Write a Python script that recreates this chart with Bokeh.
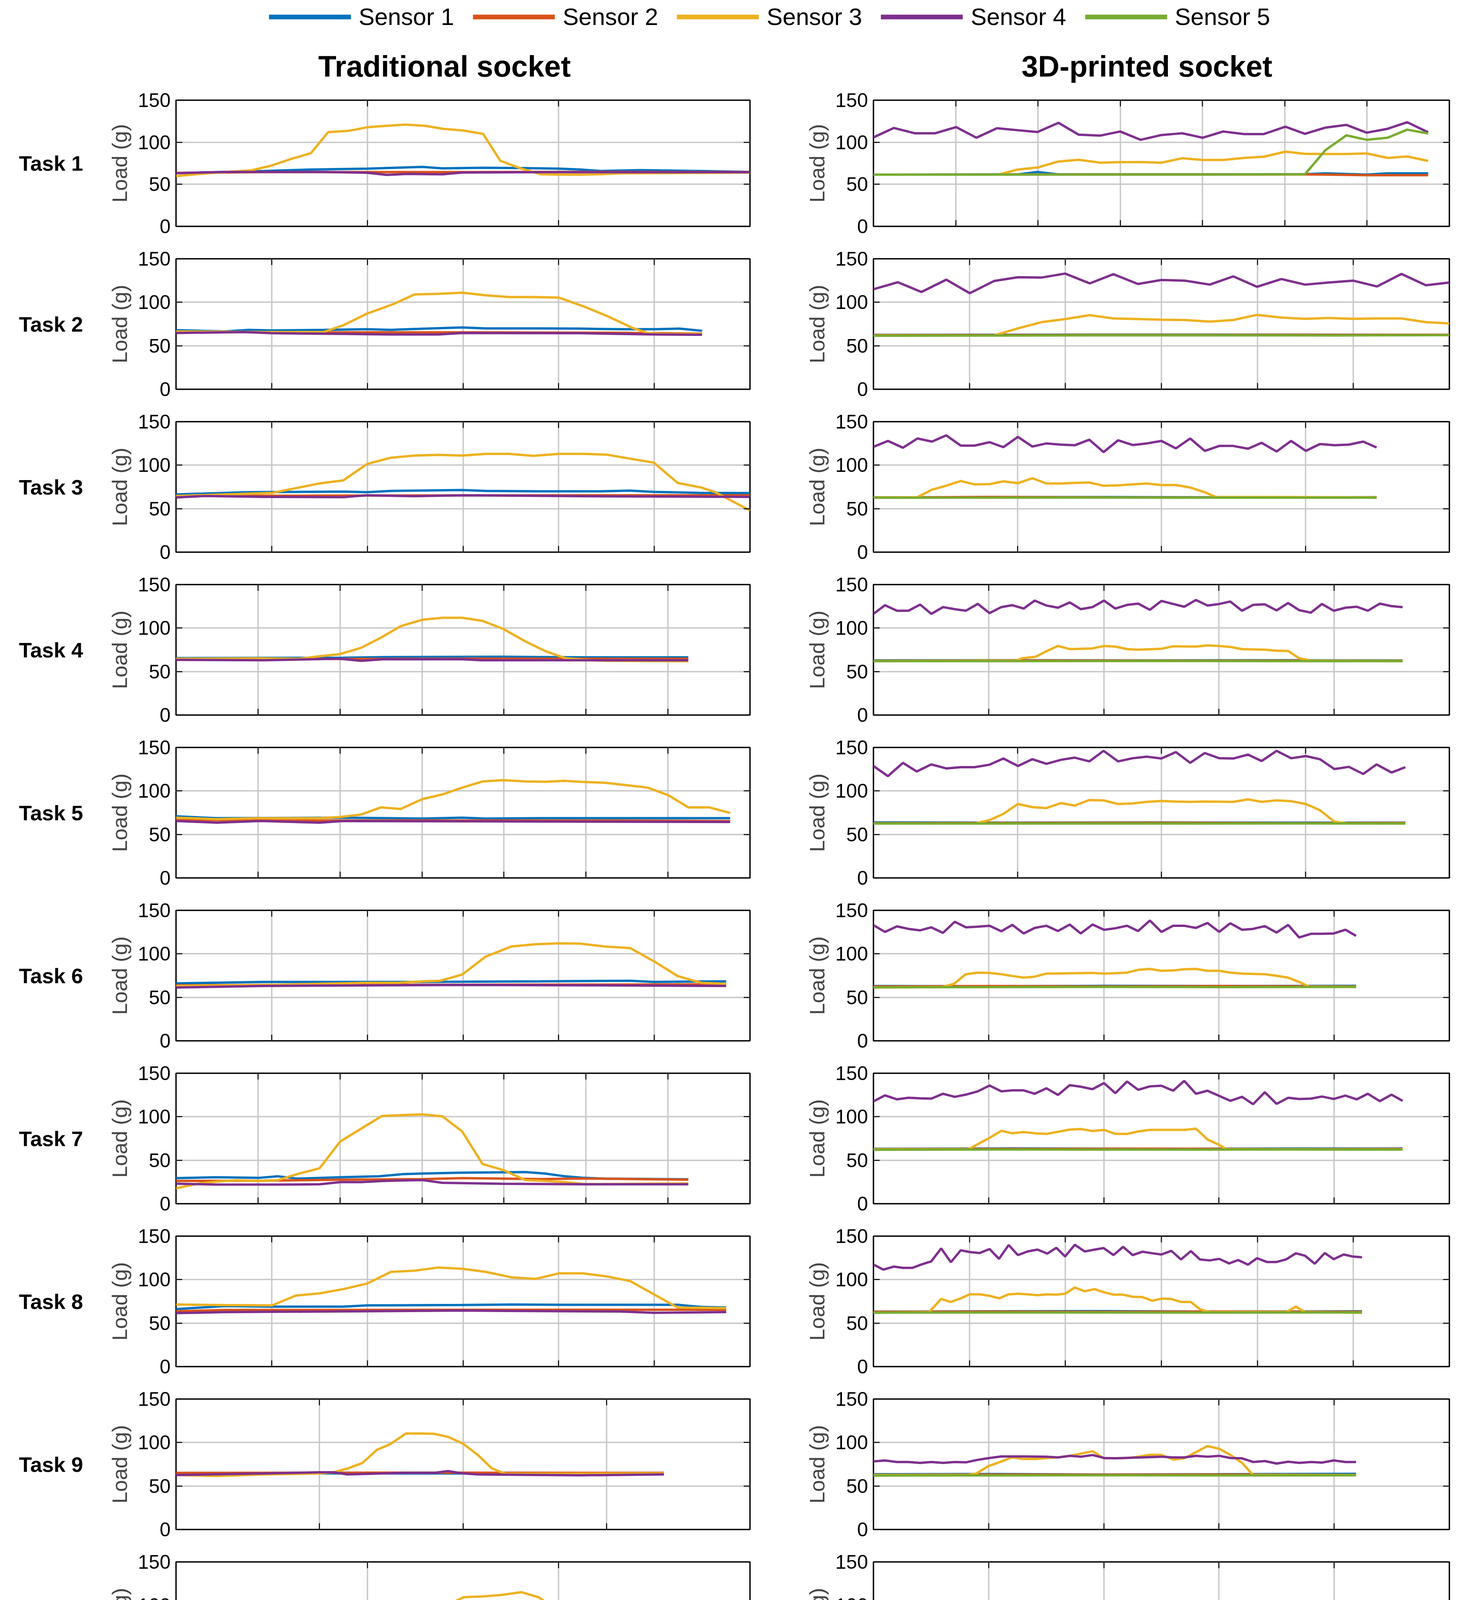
from bokeh.plotting import figure
from bokeh.models import (Range1d, FixedTicker, LinearAxis, Legend, LegendItem,
                          CustomLabelingPolicy)
from bokeh.layouts import column, row
from bokeh.embed import file_html
from bokeh.resources import INLINE
from bokeh.core.properties import value

SENSORS = ["Sensor 1", "Sensor 2", "Sensor 3", "Sensor 4", "Sensor 5"]
COLORS = ["#0072BD", "#D95319", "#EDB120", "#7E2F8E", "#77AC30"]
COL_TITLES = ["Traditional socket", "3D-printed socket"]
TASKS = ["Task 1", "Task 2", "Task 3", "Task 4", "Task 5", "Task 6",
         "Task 7", "Task 8", "Task 9", "Task 10", "Task 11", "Task 12"]
Y_TICKS = [0, 50, 100, 150]
X_MAX = {"L": 2.0, "R": 2.5}
GRID_DIV_L = [3, 6, 6, 7, 7, 6, 7, 6, 4, 3, 3, 4]
GRID_DIV_R = [7, 6, 4, 5, 4, 5, 5, 6, 5, 5, 4, 5]

# ---------------- Traditional socket (left column) ----------------
L1_S1_T = [0, 0.307, 0.473, 0.666, 0.859, 0.928, 1.065, 1.203, 1.334, 1.41, 1.479, 1.617, 1.686, 1.824, 2.0]
L1_S1_V = [63.3, 65.8, 67.6, 68.6, 70.7, 69, 69.7, 69.3, 68.6, 67.6, 65.8, 66.9, 66.5, 65.8, 64.7]
L1_S2_T = [0, 0.3, 0.73, 1.0, 1.5, 2.0]
L1_S2_V = [63.5, 64.5, 64.6, 64.6, 64.8, 64.6]
L1_S3_T = [0, 0.07, 0.17, 0.26, 0.33, 0.40, 0.47, 0.53, 0.60, 0.67, 0.73, 0.80, 0.87, 0.93, 1.00, 1.07, 1.13, 1.20, 1.27, 1.33, 1.41, 1.48, 1.55, 1.69, 1.82, 2.0]
L1_S3_V = [59.8, 62, 64.5, 66.5, 72, 80, 87, 112, 113.5, 118, 119.5, 121, 119.5, 116, 114, 110, 78, 69, 62, 61.5, 61.5, 62, 63, 63.3, 63.5, 64]
L1_S4_T = [0, 0.17, 0.514, 0.666, 0.735, 0.804, 0.928, 0.997, 1.272, 2.0]
L1_S4_V = [63.3, 64.7, 64.7, 63.7, 61.2, 62.3, 61.9, 64, 64.4, 64.4]

L2_S1_T = [0, 0.17, 0.252, 0.335, 0.514, 0.666, 0.749, 0.831, 0.997, 1.079, 1.272, 1.41, 1.548, 1.672, 1.755, 1.833]
L2_S1_V = [67.9, 66.5, 68.3, 67.6, 68.3, 69, 68.3, 69.3, 71.1, 70, 70, 69.7, 69, 69, 69.7, 67.2]
L2_S2_T = [0, 0.5, 1.0, 1.5, 1.833]
L2_S2_V = [65.8, 65.5, 65.5, 65, 64]
L2_S3_T = [0, 0.307, 0.514, 0.583, 0.666, 0.755, 0.831, 0.914, 0.997, 1.079, 1.162, 1.245, 1.334, 1.424, 1.507, 1.589, 1.644, 1.686, 1.833]
L2_S3_V = [66.5, 65.8, 65.8, 73.6, 87, 97.6, 109, 109.7, 111, 108, 106, 106, 105.4, 94.8, 83.5, 70.7, 64.7, 63.7, 63.7]
L2_S4_T = [0, 0.238, 0.335, 0.583, 0.749, 0.914, 0.997, 1.41, 1.672, 1.833]
L2_S4_V = [64.7, 65.8, 64.4, 63.7, 63, 63, 64.7, 64.4, 63, 62.6]

L3_S1_T = [0, 0.252, 0.583, 0.666, 0.749, 0.997, 1.079, 1.272, 1.479, 1.582, 1.665, 1.824, 2.0]
L3_S1_V = [66.4, 68.9, 69.6, 68.9, 70.4, 71.4, 70.4, 70, 70, 70.7, 69.3, 68.2, 67.9]
L3_S2_T = [0, 0.5, 1.0, 1.5, 2.0]
L3_S2_V = [64.6, 65, 65.2, 65.4, 65.4]
L3_S3_T = [0, 0.17, 0.335, 0.418, 0.5, 0.583, 0.666, 0.749, 0.831, 0.914, 0.997, 1.079, 1.162, 1.245, 1.334, 1.424, 1.5, 1.582, 1.665, 1.748, 1.83, 1.879, 2.0]
L3_S3_V = [64.6, 66.4, 68.2, 73.6, 79, 82.5, 101.4, 108.6, 111, 111.8, 111, 112.9, 112.9, 110.7, 112.9, 112.9, 112.1, 107.5, 102.9, 79.6, 74.3, 69, 47.9]
L3_S4_T = [0, 0.1, 0.307, 0.583, 0.666, 0.831, 0.997, 1.41, 2.0]
L3_S4_V = [62.9, 64.6, 63.6, 63.2, 65.4, 64.3, 65.4, 64.3, 63.6]

L4_S1_T = [0, 0.583, 0.721, 1.134, 1.41, 1.785]
L4_S1_V = [65.5, 65.9, 66.6, 67, 66.3, 66.3]
L4_S2_T = [0, 0.5, 1.0, 1.5, 1.785]
L4_S2_V = [64.1, 64.5, 64.8, 64.8, 64.8]
L4_S3_T = [0, 0.287, 0.431, 0.5, 0.572, 0.645, 0.714, 0.783, 0.859, 0.928, 0.997, 1.068, 1.141, 1.217, 1.286, 1.355, 1.424, 1.493, 1.785]
L4_S3_V = [64.8, 65.2, 64.8, 67.6, 70.1, 77.3, 89, 102.2, 109.6, 111.8, 111.8, 108.2, 98.9, 84.7, 73.6, 65.5, 63.4, 62.3, 61.9]
L4_S4_T = [0, 0.307, 0.569, 0.645, 0.721, 0.997, 1.065, 1.785]
L4_S4_V = [63.4, 63, 64.8, 62.3, 64.1, 64.1, 63, 63]

L5_S1_T = [0, 0.142, 0.583, 0.859, 0.997, 1.079, 1.272, 1.931]
L5_S1_V = [70.8, 68.7, 69.3, 68.3, 69.3, 68.3, 68.7, 68.7]
L5_S2_T = [0, 0.5, 1.0, 1.5, 1.931]
L5_S2_V = [66.5, 66, 66, 66, 65.4]
L5_S3_T = [0, 0.142, 0.287, 0.5, 0.572, 0.645, 0.714, 0.783, 0.859, 0.928, 0.997, 1.068, 1.141, 1.217, 1.286, 1.355, 1.424, 1.493, 1.569, 1.644, 1.716, 1.785, 1.858, 1.931]
L5_S3_V = [69.3, 67.6, 68.7, 68.7, 70.1, 72.9, 81.1, 79.3, 90.7, 96, 103.8, 110.9, 112.4, 110.9, 110.6, 111.6, 110.2, 109.5, 106.7, 103.8, 95, 81.1, 81.1, 74.7]
L5_S4_T = [0, 0.142, 0.294, 0.5, 0.583, 1.931]
L5_S4_V = [65.4, 63.6, 65.4, 63.6, 65.4, 64.3]

L6_S1_T = [0, 0.307, 0.859, 1.272, 1.582, 1.665, 1.917]
L6_S1_V = [66, 67.7, 67.7, 68.4, 69.1, 67.7, 68.4]
L6_S2_T = [0, 0.5, 1.0, 1.5, 1.917]
L6_S2_V = [63.8, 64.5, 64.5, 64.7, 64.9]
L6_S3_T = [0, 0.307, 0.666, 0.776, 0.859, 0.921, 0.997, 1.079, 1.169, 1.252, 1.334, 1.41, 1.493, 1.582, 1.665, 1.748, 1.83, 1.917]
L6_S3_V = [63.1, 64.2, 66.7, 66.7, 68.4, 69.1, 76.2, 96.8, 108.5, 111, 112.1, 111.7, 108.5, 106.7, 91.5, 74.5, 66.7, 65.6]
L6_S4_T = [0, 0.307, 0.997, 1.41, 1.917]
L6_S4_V = [61.3, 63.1, 64.2, 63.8, 63.1]

L7_S1_T = [0, 0.142, 0.287, 0.356, 0.425, 0.572, 0.707, 0.79, 0.859, 0.997, 1.217, 1.286, 1.355, 1.424, 1.493, 1.785]
L7_S1_V = [29.4, 30.4, 29.7, 31.5, 28.8, 30.4, 31.5, 34, 34.7, 35.7, 36.4, 34.7, 31.5, 29.7, 28.8, 28.1]
L7_S2_T = [0, 0.307, 0.583, 0.859, 0.997, 1.272, 1.41, 1.785]
L7_S2_V = [26.2, 26.5, 27.6, 28.3, 29.4, 28.3, 29, 27.6]
L7_S3_T = [0, 0.073, 0.142, 0.211, 0.287, 0.356, 0.425, 0.5, 0.572, 0.645, 0.717, 0.79, 0.859, 0.928, 0.997, 1.068, 1.141, 1.217, 1.286, 1.355, 1.424, 1.493, 1.785]
L7_S3_V = [17.7, 22.9, 25.5, 26.9, 26.2, 27.2, 34.3, 40.7, 71.5, 86.3, 100.8, 101.9, 102.6, 100.5, 83.1, 45.6, 38.6, 27.2, 26.2, 24.8, 22.6, 22.6, 23.3]
L7_S4_T = [0, 0.142, 0.356, 0.5, 0.572, 0.645, 0.721, 0.859, 0.928, 1.134, 1.424, 1.785]
L7_S4_V = [23, 22, 22, 22.3, 24.8, 24.8, 26.2, 27.2, 24, 22.9, 22.3, 22.3]

L8_S1_T = [0, 0.17, 0.335, 0.583, 0.666, 0.997, 1.169, 1.334, 1.748, 1.83, 1.917]
L8_S1_V = [66.1, 69.6, 68.9, 68.9, 70.4, 70.8, 71.4, 71.1, 71.1, 68.6, 67.9]
L8_S2_T = [0, 0.17, 1.0, 1.917]
L8_S2_V = [63.7, 65.1, 65.3, 65.4]
L8_S3_T = [0, 0.17, 0.335, 0.418, 0.5, 0.583, 0.666, 0.749, 0.831, 0.914, 0.997, 1.079, 1.169, 1.252, 1.334, 1.417, 1.5, 1.582, 1.665, 1.748, 1.917]
L8_S3_V = [71.4, 70.7, 70.4, 81.7, 84.2, 89.1, 95.5, 108.9, 110.3, 113.9, 112.5, 108.9, 102.6, 100.8, 107.2, 107.2, 103.7, 98.4, 83.1, 67.9, 67.2]
L8_S4_T = [0, 0.17, 0.997, 1.548, 1.665, 1.917]
L8_S4_V = [61.5, 62.6, 64.4, 63.3, 61.9, 62.6]

L9_S1_T = [0, 0.5, 1.0, 1.7]
L9_S1_V = [63.5, 64.5, 64.5, 64]
L9_S2_T = [0, 0.5, 1.0, 1.7]
L9_S2_V = [65.1, 65.3, 65.3, 65.1]
L9_S3_T = [0, 0.142, 0.307, 0.5, 0.549, 0.597, 0.649, 0.7, 0.748, 0.801, 0.852, 0.9, 0.948, 1.0, 1.052, 1.1, 1.148, 1.7]
L9_S3_V = [62.6, 61.5, 63.3, 64.4, 65.8, 70, 76.4, 91.6, 98.4, 110.4, 110.4, 110, 106.5, 98.7, 85.6, 70.4, 64, 64.4]
L9_S4_T = [0, 0.307, 0.5, 0.549, 0.597, 0.79, 0.9, 0.948, 1.0, 1.052, 1.41, 1.7]
L9_S4_V = [62.6, 64.4, 65.8, 65.8, 63.3, 65.1, 65.1, 67.2, 64.4, 63.3, 62.3, 63.3]

L10_S1_T = [0, 0.307, 0.666, 0.928, 1.003, 1.41, 1.604, 2.0]
L10_S1_V = [63.5, 64.8, 67.4, 68.1, 66.7, 67.4, 66.7, 65.6]
L10_S2_T = [0, 0.128, 0.307, 2.0]
L10_S2_V = [63.5, 66, 66, 66]
L10_S3_T = [0, 0.307, 0.666, 0.735, 0.804, 0.87, 0.935, 1.003, 1.065, 1.134, 1.203, 1.265, 1.334, 1.403, 1.465, 1.535, 1.604, 1.686, 1.824, 2.0]
L10_S3_V = [63.5, 64.5, 65, 72.4, 89, 103.9, 98.9, 109.5, 110.2, 112, 115.2, 109.2, 92.6, 74.1, 65.3, 61.4, 62.1, 62.5, 62.5, 61.8]
L10_S4_T = [0, 0.17, 0.39, 0.459, 0.528, 0.597, 0.859, 0.928, 1.003, 1.334, 1.465, 1.548, 1.686, 2.0]
L10_S4_V = [64.2, 64.2, 63.5, 65.2, 63.2, 64.5, 64.5, 63.5, 66.7, 66.4, 64.5, 65.9, 64.8, 64.5]

L11_S1_T = [0, 0.583, 0.804, 0.859, 0.941, 1.003, 1.272, 1.534, 1.617, 2.0]
L11_S1_V = [63.6, 65.3, 66, 67.1, 67.1, 66, 67.1, 67.1, 66, 66]
L11_S2_T = [0, 1.0, 2.0]
L11_S2_V = [65.3, 65.3, 65.3]
L11_S3_T = [0, 0.404, 0.473, 0.535, 0.6, 0.666, 0.735, 0.804, 0.87, 0.941, 1.003, 1.068, 1.107, 1.203, 1.334, 1.548, 1.686, 1.824, 2.0]
L11_S3_V = [64.3, 65.3, 78.7, 93.4, 113.1, 112.1, 110.3, 108.2, 106.5, 102.6, 96.3, 70.6, 65.3, 63.6, 62.9, 61.8, 61.8, 63.6, 63.6]
L11_S4_T = [0, 0.17, 0.252, 0.404, 0.6, 0.666, 0.735, 1.134, 1.465, 1.686, 2.0]
L11_S4_V = [62.9, 62.9, 61.8, 62.9, 62.9, 65.3, 63.6, 63.6, 62.5, 63.2, 62.5]

L12_S1_T = [0, 0.555, 0.649, 0.7, 0.797, 0.852, 0.951, 1.052, 1.41, 1.603, 1.799]
L12_S1_V = [63, 64.1, 67.6, 69.4, 70.1, 67.6, 66.5, 65.1, 65.8, 64.1, 63]
L12_S2_T = [0, 0.252, 0.859, 1.272, 1.799]
L12_S2_V = [64.1, 65.1, 65.1, 65.1, 63]
L12_S3_T = [0, 0.555, 0.6, 0.649, 0.7, 0.748, 0.797, 0.852, 0.9, 0.951, 1.001, 1.052, 1.1, 1.272, 1.799]
L12_S3_V = [64.1, 64.1, 73.6, 75.4, 94, 112.7, 112.3, 108.8, 106.3, 102.8, 79.9, 65.8, 61.3, 61.3, 62.3]
L12_S4_T = [0, 0.197, 0.252, 0.445, 0.797, 0.951, 1.052, 1.41, 1.799]
L12_S4_V = [61.6, 61.3, 63, 63, 61.6, 63.4, 62.3, 61.6, 61.6]

# ---------------- 3D-printed socket (right column) ----------------
R1_S1_T = [0, 0.627, 0.712, 0.803, 1.5, 1.873, 1.962, 2.141, 2.232, 2.408]
R1_S1_V = [61.5, 61.8, 64.7, 61.8, 61.8, 62, 63, 61.5, 63, 63]
R1_S2_T = [0, 1.0, 1.873, 1.962, 2.141, 2.408]
R1_S2_V = [61.5, 61.8, 61.8, 61.5, 60.8, 60.8]
R1_S3_T = [0, 0.541, 0.627, 0.712, 0.803, 0.891, 0.985, 1.071, 1.16, 1.25, 1.34, 1.429, 1.518, 1.609, 1.694, 1.788, 1.873, 1.962, 2.053, 2.141, 2.232, 2.317, 2.408]
R1_S3_V = [61.5, 61.5, 67.6, 70, 77.1, 79.2, 75.7, 76.4, 76.4, 75.7, 81, 78.9, 78.9, 81.4, 82.8, 88.8, 86.3, 86, 86, 86.7, 81.4, 83.1, 77.8]
R1_S4_T = [0, 0.089, 0.179, 0.268, 0.359, 0.447, 0.536, 0.627, 0.712, 0.803, 0.891, 0.985, 1.071, 1.16, 1.25, 1.34, 1.429, 1.518, 1.609, 1.694, 1.788, 1.873, 1.962, 2.053, 2.141, 2.232, 2.317, 2.408]
R1_S4_V = [105.8, 117, 110.7, 110.7, 118, 105.4, 116.7, 114.3, 112.1, 123.1, 109, 107.9, 112.8, 102.9, 108.6, 110.7, 105.4, 112.8, 109.7, 109.7, 118.5, 110, 117.4, 120.6, 111.4, 116, 123.8, 111.8]
R1_S5_T = [0, 0.5, 1.0, 1.5, 1.873, 1.962, 2.053, 2.141, 2.232, 2.317, 2.408]
R1_S5_V = [61.5, 61.5, 61.8, 61.8, 61.9, 90.6, 108.2, 102.9, 105.4, 115, 110.4]

R2_S1_T = [0, 1.25, 2.5]
R2_S1_V = [62.5, 62.8, 62.6]
R2_S2_T = [0, 1.25, 2.5]
R2_S2_V = [62.3, 62.4, 62.6]
R2_S3_T = [0, 0.524, 0.627, 0.729, 0.832, 0.939, 1.042, 1.148, 1.25, 1.352, 1.46, 1.562, 1.665, 1.771, 1.873, 1.976, 2.082, 2.186, 2.292, 2.398, 2.5]
R2_S3_V = [61.9, 61.9, 70, 77.1, 80.7, 85.2, 81.4, 80.7, 79.9, 79.6, 77.8, 79.6, 85.6, 82.4, 81, 82, 81, 81.4, 81.4, 77.1, 75.7]
R2_S4_T = [0, 0.106, 0.208, 0.316, 0.418, 0.524, 0.627, 0.729, 0.832, 0.939, 1.042, 1.148, 1.25, 1.352, 1.46, 1.562, 1.665, 1.771, 1.873, 1.976, 2.082, 2.186, 2.292, 2.398, 2.5]
R2_S4_V = [115, 123.1, 111.8, 126, 110.4, 124.5, 128.8, 128.4, 133, 121.7, 132.3, 121, 125.6, 124.9, 120.3, 129.8, 117.8, 126.7, 120.3, 122.7, 124.9, 118.2, 132.6, 119.6, 122.7]
R2_S5_T = [0, 0.5, 1.0, 1.5, 2.0, 2.5]
R2_S5_V = [61.5, 61.8, 62, 62, 61.9, 62.2]

R3_S1_T = [0, 0.5, 1.0, 1.5, 2.184]
R3_S1_V = [63, 63.2, 63.3, 63, 63.2]
R3_S2_T = [0, 0.5, 1.0, 1.5, 2.184]
R3_S2_V = [62.8, 63.4, 63, 62.8, 63]
R3_S3_T = [0, 0.191, 0.254, 0.316, 0.379, 0.439, 0.504, 0.564, 0.627, 0.69, 0.751, 0.814, 0.874, 0.937, 0.999, 1.062, 1.125, 1.187, 1.25, 1.313, 1.375, 1.438, 1.484, 2.184]
R3_S3_V = [62.9, 63.2, 71.8, 76.4, 81.8, 77.9, 78.2, 81.4, 79.3, 85, 78.9, 78.9, 79.6, 80, 76.4, 76.8, 77.9, 78.9, 77.1, 77.1, 74.3, 68.9, 63.6, 63]
R3_S4_T = [0, 0.063, 0.128, 0.191, 0.254, 0.316, 0.379, 0.439, 0.504, 0.564, 0.627, 0.69, 0.751, 0.814, 0.874, 0.937, 0.999, 1.062, 1.125, 1.187, 1.25, 1.313, 1.375, 1.438, 1.501, 1.562, 1.626, 1.685, 1.75, 1.813, 1.877, 1.938, 2.001, 2.064, 2.126, 2.184]
R3_S4_V = [121.1, 127.9, 120, 130.7, 127.1, 134.3, 122.5, 122.5, 126.4, 120.7, 132.5, 121.4, 125, 123.6, 122.9, 129.3, 115, 128.6, 123.2, 125, 127.9, 119.3, 130.7, 116.4, 122.1, 122.1, 118.9, 125.7, 115.7, 127.9, 116.4, 124.3, 122.9, 123.6, 127.1, 120.4]
R3_S5_T = [0, 0.5, 1.0, 1.5, 2.184]
R3_S5_V = [62.5, 62.6, 62.8, 62.6, 62.7]

R4_S1_T = [0, 0.6, 1.2, 1.8, 2.297]
R4_S1_V = [62.8, 63, 62.8, 63, 62.7]
R4_S2_T = [0, 0.6, 1.2, 1.8, 2.297]
R4_S2_V = [62.3, 62.8, 62.5, 62.5, 62.4]
R4_S3_T = [0, 0.618, 0.644, 0.704, 0.751, 0.801, 0.852, 0.951, 1.001, 1.05, 1.101, 1.149, 1.25, 1.301, 1.4, 1.45, 1.501, 1.549, 1.6, 1.699, 1.75, 1.8, 1.848, 1.899, 2.297]
R4_S3_V = [62, 62.7, 65.2, 67, 73.4, 79.4, 75.8, 76.6, 79.4, 78.7, 75.8, 75.1, 76.2, 79, 78.7, 80.1, 79.4, 78.3, 75.8, 75.1, 74, 73.7, 65.2, 62.7, 62]
R4_S4_T = [0, 0.05, 0.102, 0.152, 0.203, 0.251, 0.302, 0.353, 0.401, 0.453, 0.504, 0.555, 0.603, 0.652, 0.7, 0.751, 0.801, 0.852, 0.9, 0.951, 1.001, 1.05, 1.101, 1.149, 1.2, 1.25, 1.301, 1.349, 1.4, 1.45, 1.501, 1.549, 1.6, 1.648, 1.699, 1.75, 1.8, 1.848, 1.899, 1.947, 1.998, 2.049, 2.098, 2.146, 2.198, 2.249, 2.297]
R4_S4_V = [116.3, 126.3, 119.9, 119.9, 127, 116.3, 124.1, 121.7, 119.9, 127.8, 117.2, 124.1, 126.3, 122.4, 131.6, 125.9, 123.4, 129.5, 121.7, 124.1, 131.6, 122.4, 126.6, 128.1, 121, 131.2, 127.7, 124.5, 132.3, 125.9, 127.7, 130.5, 119.9, 126.6, 127.3, 120.3, 128.8, 120.6, 117.7, 127.7, 119.9, 123.4, 124.5, 119.9, 128.1, 125.2, 124.1]
R4_S5_T = [0, 0.6, 1.2, 1.8, 2.297]
R4_S5_V = [62, 62, 62.2, 62, 62]

R5_S1_T = [0, 0.6, 1.2, 1.8, 2.309]
R5_S1_V = [63.8, 63.5, 63.8, 63.5, 63.6]
R5_S2_T = [0, 0.6, 1.2, 1.8, 2.309]
R5_S2_V = [63, 63.2, 63.4, 63, 63.2]
R5_S3_T = [0, 0.439, 0.504, 0.564, 0.627, 0.69, 0.751, 0.814, 0.874, 0.937, 0.999, 1.062, 1.125, 1.187, 1.25, 1.313, 1.375, 1.438, 1.562, 1.626, 1.685, 1.75, 1.813, 1.877, 1.938, 2.001, 2.064, 2.309]
R5_S3_V = [62.6, 62.6, 66.5, 73.6, 85, 81.4, 80.3, 86, 83.2, 89.6, 89.2, 85, 85.7, 87.5, 88.5, 87.8, 87.5, 87.8, 87.5, 90.3, 87.5, 89.2, 88.2, 85, 77.9, 64.7, 62.6, 62.6]
R5_S4_T = [0, 0.063, 0.128, 0.188, 0.251, 0.316, 0.379, 0.439, 0.504, 0.564, 0.627, 0.69, 0.751, 0.814, 0.874, 0.937, 0.999, 1.062, 1.125, 1.187, 1.25, 1.313, 1.375, 1.438, 1.501, 1.562, 1.626, 1.685, 1.75, 1.813, 1.877, 1.938, 2.001, 2.064, 2.126, 2.184, 2.249, 2.309]
R5_S4_V = [128.7, 117, 132.3, 122.4, 130.5, 125.9, 127.3, 127.3, 130.2, 137.3, 128.7, 136.5, 131.2, 135.8, 138.3, 134, 146.1, 134, 137.6, 139.4, 137.3, 144.7, 132.3, 143.6, 137.6, 137.3, 141.8, 134.4, 146.1, 137.6, 140.1, 136.5, 125.2, 127.7, 119.5, 130.5, 121.2, 127.3]
R5_S5_T = [0, 0.6, 1.2, 1.8, 2.309]
R5_S5_V = [62.5, 62.6, 62.5, 62.7, 62.5]

R6_S1_T = [0, 0.5, 1.0, 1.5, 2.095]
R6_S1_V = [63, 62.7, 63.2, 63, 63.2]
R6_S2_T = [0, 0.5, 1.0, 1.5, 2.095]
R6_S2_V = [62.5, 63, 62.6, 63, 62.5]
R6_S3_T = [0, 0.302, 0.35, 0.401, 0.453, 0.504, 0.555, 0.603, 0.652, 0.7, 0.751, 0.951, 1.001, 1.101, 1.149, 1.2, 1.25, 1.301, 1.349, 1.4, 1.45, 1.501, 1.549, 1.6, 1.699, 1.75, 1.8, 1.848, 1.89, 2.095]
R6_S3_V = [61.3, 62, 65.6, 76.6, 78.4, 78, 76.6, 74.5, 72.7, 73.8, 77.3, 78, 77.3, 78.4, 81.6, 82.6, 80.5, 80.9, 82.3, 82.6, 80.5, 80.5, 78.4, 77.3, 76.6, 74.8, 72.7, 67.7, 62.4, 62]
R6_S4_T = [0, 0.05, 0.102, 0.152, 0.203, 0.251, 0.302, 0.353, 0.401, 0.453, 0.504, 0.555, 0.603, 0.652, 0.7, 0.751, 0.801, 0.852, 0.9, 0.951, 1.001, 1.05, 1.101, 1.149, 1.2, 1.25, 1.301, 1.349, 1.4, 1.45, 1.501, 1.549, 1.6, 1.648, 1.699, 1.75, 1.8, 1.848, 1.899, 1.947, 1.998, 2.049, 2.095]
R6_S4_V = [133, 125.2, 131.6, 128.7, 127, 130.5, 124.1, 136.9, 130.5, 131.2, 132.3, 125.9, 133.3, 123.4, 129.8, 132.3, 126.2, 133.7, 123.4, 133.7, 127.7, 129.4, 132.3, 126.2, 138.3, 125.2, 132.3, 132.3, 129.8, 135.5, 125.2, 135.1, 127.7, 128.7, 131.9, 124.5, 133.3, 118.8, 123, 123, 123.4, 127.7, 120.6]
R6_S5_T = [0, 0.5, 1.0, 1.5, 2.095]
R6_S5_V = [61.5, 61.8, 62, 61.8, 62]

R7_S1_T = [0, 0.6, 1.2, 1.8, 2.297]
R7_S1_V = [63.2, 63.5, 63.2, 63.4, 63.5]
R7_S2_T = [0, 0.6, 1.2, 1.8, 2.297]
R7_S2_V = [62.8, 63, 63.2, 62.8, 63]
R7_S3_T = [0, 0.413, 0.504, 0.555, 0.603, 0.652, 0.7, 0.751, 0.801, 0.852, 0.9, 0.951, 1.001, 1.05, 1.101, 1.149, 1.2, 1.25, 1.301, 1.349, 1.4, 1.45, 1.501, 1.532, 2.297]
R7_S3_V = [62.7, 62.7, 75.7, 83.8, 81, 82.4, 81, 80.3, 82.7, 85.2, 85.9, 83.5, 84.9, 80.3, 80.3, 83.1, 84.9, 84.9, 84.9, 84.9, 86.3, 73.9, 67.6, 62.7, 62.5]
R7_S4_T = [0, 0.05, 0.102, 0.152, 0.203, 0.251, 0.302, 0.353, 0.401, 0.453, 0.504, 0.555, 0.603, 0.652, 0.7, 0.751, 0.801, 0.852, 0.9, 0.951, 1.001, 1.05, 1.101, 1.149, 1.2, 1.25, 1.301, 1.349, 1.4, 1.45, 1.501, 1.549, 1.6, 1.648, 1.699, 1.75, 1.8, 1.848, 1.899, 1.947, 1.998, 2.049, 2.098, 2.146, 2.198, 2.249, 2.297]
R7_S4_V = [117.6, 124.6, 120, 121.8, 121.1, 120.8, 126.4, 122.9, 125.4, 129.2, 135.9, 129.2, 130.3, 130.3, 126.4, 132.7, 125, 136.3, 134.5, 131.7, 138.7, 127.1, 140.5, 131, 134.9, 135.6, 129.9, 141.2, 126.4, 129.9, 123.9, 118.3, 122.9, 114.4, 128.2, 114.8, 121.8, 120.4, 120.8, 123.2, 120.4, 124.3, 120, 126.4, 117.9, 125.4, 118.3]
R7_S5_T = [0, 0.6, 1.2, 1.8, 2.297]
R7_S5_V = [62, 62.3, 62.2, 62.3, 62.2]

R8_S1_T = [0, 0.5, 1.0, 1.5, 2.121]
R8_S1_V = [63.2, 63.5, 63.8, 63.2, 63.5]
R8_S2_T = [0, 0.5, 1.0, 1.5, 2.121]
R8_S2_V = [63, 63.2, 63, 63.3, 63]
R8_S3_T = [0, 0.242, 0.294, 0.336, 0.379, 0.418, 0.461, 0.504, 0.545, 0.587, 0.627, 0.669, 0.712, 0.755, 0.794, 0.832, 0.874, 0.917, 0.96, 0.999, 1.042, 1.084, 1.125, 1.168, 1.211, 1.25, 1.293, 1.335, 1.378, 1.417, 1.46, 1.791, 1.834, 1.873, 2.121]
R8_S3_V = [61.9, 62.6, 77.8, 74.3, 78.5, 83.1, 83.1, 81.4, 78.5, 83.1, 83.8, 83.1, 82.1, 83.1, 82.7, 83.8, 90.9, 86.6, 89.1, 85.6, 82.7, 82.7, 80.3, 79.9, 75.7, 78.1, 77.8, 74.3, 74.3, 66.1, 62.6, 62.6, 69, 62.6, 61.9]
R8_S4_T = [0, 0.043, 0.089, 0.128, 0.169, 0.208, 0.251, 0.294, 0.336, 0.379, 0.418, 0.461, 0.504, 0.545, 0.587, 0.627, 0.669, 0.712, 0.755, 0.794, 0.832, 0.874, 0.917, 0.96, 0.999, 1.042, 1.084, 1.125, 1.168, 1.211, 1.25, 1.293, 1.335, 1.378, 1.417, 1.46, 1.501, 1.544, 1.583, 1.626, 1.665, 1.708, 1.75, 1.791, 1.834, 1.873, 1.916, 1.959, 1.998, 2.041, 2.082, 2.121]
R8_S4_V = [117.4, 111.4, 115, 113.5, 113.5, 117.4, 121, 135.9, 120, 133.8, 131.7, 130.6, 135.2, 123.9, 139.8, 128.2, 132.4, 134.5, 129.9, 136.6, 126.6, 140.1, 132.4, 134.5, 136.3, 128.2, 137.7, 128.2, 132.1, 130.3, 128.9, 133.1, 123.2, 132.8, 123.2, 122.1, 123.9, 118.6, 122.5, 117.2, 124.6, 120.3, 120.3, 123.2, 130.3, 127.5, 118.3, 130.6, 123.5, 128.9, 126.5, 125.6]
R8_S5_T = [0, 0.5, 1.0, 1.5, 2.121]
R8_S5_V = [62, 62.2, 62.2, 62.1, 62.3]

R9_S1_T = [0, 0.5, 1.0, 1.5, 2.095]
R9_S1_V = [63.5, 63.8, 63.2, 63.5, 64]
R9_S2_T = [0, 0.5, 1.0, 1.5, 2.095]
R9_S2_V = [62.8, 63.2, 63, 63.2, 62.8]
R9_S3_T = [0, 0.405, 0.447, 0.499, 0.55, 0.601, 0.652, 0.704, 0.755, 0.801, 0.852, 0.9, 0.951, 1.001, 1.101, 1.149, 1.2, 1.25, 1.301, 1.349, 1.4, 1.45, 1.501, 1.549, 1.6, 1.648, 2.095]
R9_S3_V = [62.6, 62.6, 64.4, 72.9, 77.6, 82.9, 81.1, 81.1, 82.2, 82.9, 84.7, 87.2, 90, 81.8, 82.2, 83.7, 85.8, 85.8, 80.4, 81.8, 88.9, 95.9, 92.8, 85.8, 76.6, 62.6, 62.6]
R9_S4_T = [0, 0.05, 0.102, 0.152, 0.203, 0.251, 0.302, 0.353, 0.401, 0.453, 0.504, 0.555, 0.652, 0.751, 0.801, 0.852, 0.9, 0.951, 1.001, 1.05, 1.25, 1.301, 1.349, 1.4, 1.45, 1.501, 1.549, 1.6, 1.648, 1.699, 1.75, 1.8, 1.848, 1.899, 1.947, 1.998, 2.049, 2.095]
R9_S4_V = [78.3, 79.4, 77.6, 77.6, 76.6, 77.6, 76.6, 77.6, 77.2, 80.1, 82.2, 84, 84, 83.7, 82.9, 84.7, 83.7, 85.6, 82.2, 81.8, 83.7, 82.9, 82.9, 84.7, 83.7, 84.7, 82.2, 81.8, 77.6, 78.7, 75.8, 77.9, 76.6, 77.6, 76.9, 79.4, 77.6, 77.6]
R9_S5_T = [0, 0.5, 1.0, 1.5, 2.095]
R9_S5_V = [62, 62.2, 62.3, 62.2, 62.3]

R10_S1_T = [0, 0.6, 1.2, 1.8, 2.445]
R10_S1_V = [63, 63.3, 63.5, 63.8, 63.2]
R10_S2_T = [0, 0.6, 1.2, 1.8, 2.445]
R10_S2_V = [63.5, 63.5, 63.5, 63.5, 63.5]
R10_S3_T = [0, 0.704, 0.751, 0.801, 0.852, 0.9, 0.951, 1.001, 1.05, 1.101, 1.149, 1.2, 1.25, 1.301, 1.349, 1.4, 1.45, 1.501, 1.549, 1.6, 1.648, 1.699, 1.75, 1.8, 1.848, 1.899, 1.947, 1.998, 2.049, 2.095, 2.146, 2.445]
R10_S3_V = [62.5, 63.2, 69.5, 72.1, 76.2, 83.6, 87.1, 87.4, 83.6, 82.9, 83.3, 82.9, 81.5, 81.1, 84, 88.9, 89.2, 91.4, 90.4, 87.4, 87.8, 84, 84, 86.1, 83.3, 78.7, 80.8, 70.9, 69.5, 66, 62.5, 62.1]
R10_S4_T = [0, 0.046, 0.102, 0.2, 0.251, 0.302, 0.353, 0.401, 0.453, 0.504, 0.555, 0.603, 0.652, 0.7, 0.751, 0.801, 0.852, 0.9, 0.951, 1.001, 1.05, 1.149, 1.2, 1.25, 1.349, 1.4, 1.45, 1.501, 1.549, 1.6, 1.648, 1.699, 1.75, 1.8, 1.848, 1.899, 1.947, 1.998, 2.049, 2.146, 2.249, 2.351, 2.445]
R10_S4_V = [72.4, 73.1, 72.1, 73.1, 72.1, 72.8, 72.1, 73.1, 72.1, 73.8, 72.1, 73.8, 72.4, 74.8, 74.5, 77.3, 76.2, 78.4, 78.7, 80.5, 79.1, 79.4, 79.4, 78.7, 79.8, 79.4, 80.5, 79.1, 79.8, 78.7, 79.8, 78.4, 79.1, 77.6, 78, 76.6, 78, 75.5, 75.5, 74.1, 73.8, 73.8, 73.4]
R10_S5_T = [0, 0.6, 1.2, 1.8, 2.445]
R10_S5_V = [61.8, 61.8, 62, 62, 61.8]

R11_S1_T = [0, 0.6, 1.2, 1.8, 2.309]
R11_S1_V = [63.2, 63.5, 63.3, 63.8, 63.5]
R11_S2_T = [0, 0.6, 1.2, 1.8, 2.309]
R11_S2_V = [63.5, 63.6, 63.5, 63.6, 63.3]
R11_S3_T = [0, 0.439, 0.504, 0.564, 0.627, 0.69, 0.751, 0.814, 0.874, 0.937, 0.999, 1.062, 1.125, 1.187, 1.25, 1.313, 1.375, 1.438, 1.501, 1.562, 1.626, 1.685, 1.75, 1.813, 1.873, 1.938, 2.309]
R11_S3_V = [62.9, 62.9, 64.3, 66, 74.8, 80.5, 80.1, 77, 83.9, 80.8, 80.8, 79.4, 79.4, 83.2, 81.5, 79.4, 82.5, 77.3, 77.3, 77.3, 80.5, 85.4, 87.1, 75.2, 64.3, 62.9, 62.9]
R11_S4_T = [0, 0.063, 0.128, 0.191, 0.319, 0.439, 0.504, 0.564, 0.627, 0.69, 0.814, 0.874, 0.999, 1.125, 1.187, 1.313, 1.375, 1.438, 1.501, 1.562, 1.626, 1.685, 1.75, 1.813, 1.877, 1.938, 2.001, 2.064, 2.126, 2.184, 2.249, 2.309]
R11_S4_V = [69.2, 68.5, 69.9, 68.1, 68.5, 68.5, 69.6, 70.6, 72.4, 73.1, 73.1, 73.8, 73.1, 72.7, 72.4, 72.4, 74.2, 73.8, 72.1, 73.1, 75.9, 80.1, 81.9, 78.7, 78, 77.3, 79.8, 80.5, 81.2, 76.6, 78.4, 74.2]
R11_S5_T = [0, 0.6, 1.2, 1.8, 2.309]
R11_S5_V = [62, 62.2, 62.3, 62.2, 62.3]

R12_S1_T = [0, 0.6, 1.2, 1.8, 2.348]
R12_S1_V = [63.5, 63.8, 63.5, 63.8, 63.5]
R12_S2_T = [0, 0.6, 1.2, 1.8, 2.348]
R12_S2_V = [63.8, 63.8, 64, 63.8, 63.8]
R12_S3_T = [0, 0.852, 0.9, 0.951, 1.001, 1.05, 1.149, 1.25, 1.301, 1.349, 1.4, 1.45, 1.501, 1.549, 1.6, 1.648, 1.699, 1.75, 1.8, 1.848, 1.899, 1.947, 2.348]
R12_S3_V = [63.4, 63.4, 76.4, 77.5, 78.2, 85.2, 85.2, 84.9, 84.5, 91.5, 90.8, 88, 85.9, 84.5, 87, 90.8, 84.9, 85.2, 82.4, 81, 72.9, 63.4, 63.4]
R12_S4_T = [0, 0.063, 0.128, 0.268, 0.439, 0.61, 0.751, 0.801, 0.852, 0.9, 0.951, 1.001, 1.05, 1.149, 1.2, 1.25, 1.349, 1.4, 1.549, 1.648, 1.699, 1.75, 1.8, 1.848, 1.899, 1.947, 1.998, 2.146, 2.249, 2.348]
R12_S4_V = [71.8, 71.1, 70.4, 70.8, 70.8, 71.5, 71.8, 71.1, 73.6, 76.1, 76.4, 75.7, 77.1, 77.1, 76.4, 75.7, 76.4, 75.7, 76.1, 76.4, 75.4, 76.4, 75.7, 76.8, 73.6, 72.9, 71.8, 70.4, 70.1, 69.4]
R12_S5_T = [0, 0.6, 1.2, 1.8, 2.348]
R12_S5_V = [61.8, 61.8, 62, 62.5, 61.8]

# ---------------- layout / style ----------------
FONT = "Liberation Sans"
LINE_W = 6
FRAME_H = 334
TASK_W = 250
FIG_W = {"L": 1690, "R": 1799}
BORDER_L = {"L": 200, "R": 295}
BORDER_R = {"L": 20, "R": 30}
TITLE_OFFSET = {"L": 364, "R": 379}


def series(col, k, s):
    g = globals()
    return g.get(f"{col}{k}_S{s}_T"), g.get(f"{col}{k}_S{s}_V")


def borders(k):
    top = 155 if k == 1 else 40
    bottom = 137 if k == 12 else 43
    return top, bottom


def tick_style(ax, show_labels):
    ax.axis_line_color = None
    ax.major_tick_in = 16
    ax.major_tick_out = 0
    ax.major_tick_line_color = "black"
    ax.major_tick_line_width = 2.5
    ax.minor_tick_line_color = None
    if show_labels:
        ax.major_label_text_font = FONT
        ax.major_label_text_font_size = "50px"
        ax.major_label_text_color = "black"
    else:
        ax.major_label_policy = CustomLabelingPolicy(code="return []")
        ax.major_label_standoff = 0


def make_task_label(k):
    top, bottom = borders(k)
    p = figure(width=TASK_W, height=top + FRAME_H + bottom,
               x_range=Range1d(0, 1), y_range=Range1d(0, 150),
               output_backend="svg", toolbar_location=None,
               x_axis_location=None, y_axis_location=None,
               min_border_left=0, min_border_right=0,
               min_border_top=top, min_border_bottom=bottom)
    p.outline_line_color = None
    p.grid.visible = False
    p.text(x=[0.52], y=[75], text=[TASKS[k - 1]],
           text_font=value(FONT), text_font_size=value("54px"), text_font_style="bold",
           text_align="center", text_baseline="middle", text_color="black")
    return p


def make_panel(col, k):
    xmax = X_MAX[col]
    ndiv = (GRID_DIV_L if col == "L" else GRID_DIV_R)[k - 1]
    xt = [xmax * i / ndiv for i in range(ndiv + 1)]
    first, last = k == 1, k == 12
    top, bottom = borders(k)
    p = figure(width=FIG_W[col], height=top + FRAME_H + bottom,
               x_range=Range1d(0, xmax), y_range=Range1d(0, 150),
               output_backend="svg", toolbar_location=None,
               min_border_left=BORDER_L[col], min_border_right=BORDER_R[col],
               min_border_top=top, min_border_bottom=bottom,
               title=(COL_TITLES[0] if col == "L" else COL_TITLES[1]) if first else None)
    p.background_fill_color = "white"
    p.border_fill_color = "white"
    p.outline_line_color = "black"
    p.outline_line_width = 3.5

    if first:
        p.title.align = "left"
        p.title.offset = TITLE_OFFSET[col]
        p.title.text_font = FONT
        p.title.text_font_size = "76px"
        p.title.text_font_style = "bold"
        p.title.text_color = "black"
        p.title.standoff = 68

    for s in range(1, 6):
        t, v = series(col, k, s)
        if t is None:
            continue
        p.line(t, v, line_color=COLORS[s - 1], line_width=LINE_W)

    p.xgrid.ticker = FixedTicker(ticks=xt)
    p.ygrid.ticker = FixedTicker(ticks=Y_TICKS)
    p.grid.grid_line_color = "#c8c8c8"
    p.grid.grid_line_width = 3.5

    xax = p.xaxis[0]
    xax.ticker = FixedTicker(ticks=xt)
    tick_style(xax, last)
    if last:
        xax.major_label_overrides = {x: f"{x:g}" for x in xt}
        xax.major_label_standoff = 17
        xax.axis_label = "Time (s)"
        xax.axis_label_text_font = FONT
        xax.axis_label_text_font_size = "52px"
        xax.axis_label_text_font_style = "normal"
        xax.axis_label_standoff = 4

    yax = p.yaxis[0]
    yax.ticker = FixedTicker(ticks=Y_TICKS)
    tick_style(yax, True)
    yax.major_label_standoff = 14
    yax.axis_label = "Load (g)"
    yax.axis_label_text_font = FONT
    yax.axis_label_text_font_size = "54px"
    yax.axis_label_text_font_style = "normal"
    yax.axis_label_standoff = 14

    top_ax = LinearAxis(ticker=FixedTicker(ticks=xt))
    tick_style(top_ax, False)
    p.add_layout(top_ax, "above")
    right_ax = LinearAxis(ticker=FixedTicker(ticks=Y_TICKS))
    tick_style(right_ax, False)
    p.add_layout(right_ax, "right")
    return p


# legend strip
lg = figure(width=TASK_W + FIG_W["L"] + FIG_W["R"], height=90,
            x_range=Range1d(0, 1), y_range=Range1d(0, 1),
            output_backend="svg", toolbar_location=None,
            x_axis_location=None, y_axis_location=None, min_border=0)
lg.outline_line_color = None
lg.grid.visible = False
items = []
for name, c in zip(SENSORS, COLORS):
    r = lg.line(x=[float("nan")], y=[float("nan")], line_color=c, line_width=12)
    items.append(LegendItem(label=name, renderers=[r]))
legend = Legend(items=items, orientation="horizontal", location=(688, 12),
                glyph_width=210, glyph_height=40, label_height=40, label_standoff=20, spacing=48,
                label_text_font=FONT, label_text_font_size="61px", label_text_color="black",
                padding=0, margin=0, border_line_color=None, background_fill_alpha=0)
lg.add_layout(legend, "center")

rows = [lg]
for k in range(1, 13):
    rows.append(row(make_task_label(k), make_panel("L", k), make_panel("R", k), spacing=0))
page = column(*rows, spacing=0)

open("out.html", "w").write(file_html(page, INLINE))
